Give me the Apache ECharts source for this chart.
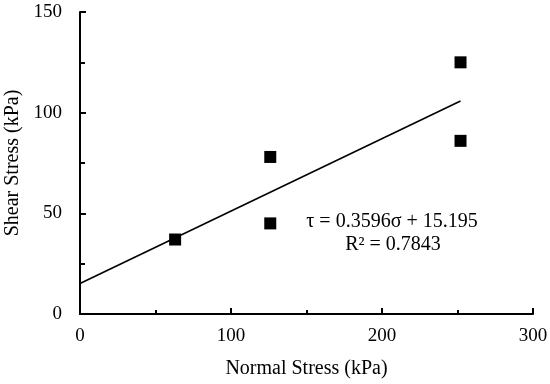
<!DOCTYPE html>
<html><head><meta charset="utf-8">
<script src="https://cdn.jsdelivr.net/npm/echarts@6/dist/echarts.min.js"></script>
<style>html,body{margin:0;padding:0;background:#fff}#c{width:550px;height:384px}</style>
</head><body><div id="c"></div>
<script>
var normalStress = [63, 126, 126, 252, 252];
var shearStress = [37, 78, 45, 125, 86];
var slope = 0.3596, intercept = 15.195;
var trendX = [0, 252];
var eqText = 'τ = 0.3596σ + 15.195';
var r2Text = 'R² = 0.7843';
var xTicks = [0, 100, 200, 300];
var yTicks = [0, 50, 100, 150];

var pts = normalStress.map(function(x, i){ return [x, shearStress[i]]; });
var trend = trendX.map(function(x){ return [x, slope * x + intercept]; });
var F = '"Liberation Serif", "Times New Roman", serif';
var chart = echarts.init(document.getElementById('c'));
chart.setOption({
  animation: false,
  grid: {left: 80, right: 17, top: 12, bottom: 70, containLabel: false, outerBoundsMode: 'none'},
  xAxis: {
    type: 'value', min: 0, max: 300, interval: 100,
    name: 'Normal Stress (kPa)', nameLocation: 'middle', nameGap: 45,
    nameTextStyle: {fontFamily: F, fontSize: 20, color: '#000'},
    axisLine: {show: true, onZero: false, lineStyle: {color: '#000', width: 2}},
    axisTick: {show: true, inside: true, length: 6, lineStyle: {color: '#000', width: 2}},
    minorTick: {show: true, splitNumber: 2, length: 4, lineStyle: {color: '#000', width: 2}},
    axisLabel: {fontFamily: F, fontSize: 19, color: '#000', margin: 13},
    splitLine: {show: false}
  },
  yAxis: {
    type: 'value', min: 0, max: 150, interval: 50,
    name: 'Shear Stress (kPa)', nameLocation: 'middle', nameGap: 54,
    nameTextStyle: {fontFamily: F, fontSize: 20, color: '#000'},
    axisLine: {show: true, onZero: false, lineStyle: {color: '#000', width: 2}},
    axisTick: {show: true, inside: true, length: 6, lineStyle: {color: '#000', width: 2}},
    minorTick: {show: true, splitNumber: 2, length: 5, lineStyle: {color: '#000', width: 2}},
    axisLabel: {fontFamily: F, fontSize: 19, color: '#000', margin: 18},
    splitLine: {show: false}
  },
  series: [
    {type: 'line', data: trend, showSymbol: false, symbol: 'none',
     lineStyle: {color: '#000', width: 1.6}, z: 2},
    {type: 'scatter', data: pts, symbol: 'rect', symbolSize: 12,
     itemStyle: {color: '#000', opacity: 1}, z: 3}
  ],
  graphic: [
    {type: 'text', style: {text: eqText, x: 392, y: 222, fontFamily: F, fontSize: 20, fill: '#000', textAlign: 'center', textVerticalAlign: 'middle'}},
    {type: 'text', style: {text: r2Text, x: 393, y: 245, fontFamily: F, fontSize: 20, fill: '#000', textAlign: 'center', textVerticalAlign: 'middle'}}
  ]
});
</script></body></html>
